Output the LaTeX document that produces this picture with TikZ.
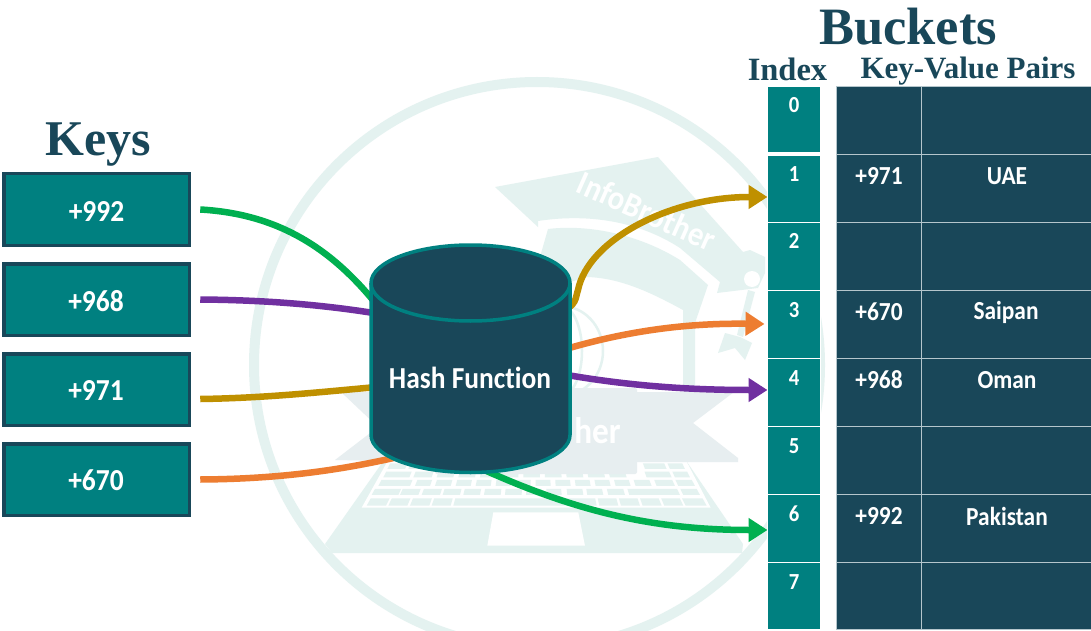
\documentclass[tikz,border=0pt]{standalone}
\usepackage{fontspec}
\setmainfont{Carlito}[Ligatures=NoCommon,FakeStretch=0.9]
\newfontfamily\titlefont{Liberation Serif}
\usetikzlibrary{arrows.meta}
\definecolor{teal1}{HTML}{008080}
\definecolor{navy1}{HTML}{194759}
\definecolor{wm}{HTML}{E4F2F0}
\definecolor{wmg}{HTML}{E7EEF0}
\definecolor{cgreen}{HTML}{00B050}
\definecolor{cpurple}{HTML}{7030A0}
\definecolor{cgold}{HTML}{BF9000}
\definecolor{corange}{HTML}{ED7D31}
\definecolor{cellline}{HTML}{B5C6CC}
\pgfdeclarelayer{wmlayer}
\pgfdeclarelayer{linklayer}
\pgfsetlayers{wmlayer,linklayer,main}
\tikzset{
 keybox/.style={draw=navy1,line width=3.5pt,fill=teal1,minimum width=185.5pt,minimum height=71.5pt,inner sep=0pt,outer sep=0pt},
 keytext/.style={text=white,inner sep=0pt,font=\bfseries\fontsize{30.5}{30.5}\selectfont},
 idxbox/.style={fill=teal1,draw=white,line width=1pt,anchor=north west,minimum width=53pt,inner sep=0pt,outer sep=0pt},
 idxtext/.style={text=white,inner sep=0pt,font=\bfseries\fontsize{23}{23}\selectfont},
 cellbox/.style={fill=navy1,draw=cellline,line width=1pt,anchor=north west,inner sep=0pt,outer sep=0pt},
 celltext/.style={text=white,inner sep=0pt,font=\bfseries\fontsize{26}{26}\selectfont},
 heading/.style={text=navy1,inner sep=0pt,anchor=base},
 link/.style={line width=6.5pt},
 arrowlink/.style={line width=6.5pt,-{Triangle[length=19pt,width=23pt]}},
 wmfill/.style={fill=wm,draw=none},
}
\begin{document}
\begin{tikzpicture}[x=1pt,y=-1pt]
\useasboundingbox (0,0) rectangle (1091,631);
\begin{pgfonlayer}{wmlayer}
\fill[white] (0,0) rectangle (1091,631);
\begin{scope}
\clip (0,0) rectangle (1091,631);
\draw[wm,line width=10pt] (537,365) circle[radius=283pt];
\end{scope}
% laptop
\fill[wmfill] (382,463) -- (687,462) -- (743,544) -- (742,553) -- (332,553) -- (325,544) -- cycle;
\begin{scope}[shift={(310,400)},x=.3333pt,y=-.3333pt]
\fill[white] (155,323) -- (232,185) -- (1130,185) -- (1202,323) -- cycle;
\foreach \yt/\yb/\lst in {
 190/207/{232/285,295/350,1005/1070,1080/1125},
 215/232/{220/298,310/365,380/430,445/495,510/560,575/625,640/690,705/755,770/820,835/885,900/950,1010/1085,1095/1140},
 240/258/{205/300,315/360,375/422,437/482,497/542,557/602,617/662,677/722,737/782,797/842,857/902,917/962,977/1025,1040/1095,1105/1155},
 267/285/{185/265,270/325,335/390,398/450,460/510,522/572,585/635,648/695,710/755,772/820,832/880,895/945,958/1110,1120/1170},
 295/317/{170/228,235/292,300/358,365/422,430/860,868/925,933/990,998/1055,1063/1120,1127/1190}}{
  \foreach \a/\b in \lst {
    \pgfmathsetmacro\sa{(678-\a)*0.0011*(\yb-\yt)}
    \pgfmathsetmacro\sb{(678-\b)*0.0011*(\yb-\yt)}
    \fill[wm] (\a,\yb) -- (\a+\sa,\yt) -- (\b+\sb,\yt) -- (\b,\yb) -- cycle;
  }
}
\fill[white] (550,337) -- (805,337) -- (825,437) -- (532,437) -- cycle;
\end{scope}
% globe
\draw[wm,line width=2.5pt] (561,351) ellipse[x radius=42pt,y radius=45pt];
\draw[wm,line width=2.5pt] (561,351) ellipse[x radius=21pt,y radius=45pt];
% cap
\fill[wmfill] (540,257) -- (548,229) .. controls (590,224) and (640,235) .. (680,260) -- (708,285) -- (695,323) -- (695,392) -- (683,392) -- (683,310) .. controls (650,292) and (620,278) .. (587,277) -- (570,282) -- cycle;
\fill[wmfill] (495,187) -- (658,157) -- (743,252) -- (750,250) -- (765,257) -- (765,273) -- (758,288) -- (717,293) -- (720,282) -- (680,248) .. controls (640,222) and (590,213) .. (538,221) -- (538,227) -- cycle;
\fill[white] (752,279) circle[radius=8pt];
\fill[wmfill] (748,290) -- (755,292) -- (743,337) -- (737,335) -- cycle;
\fill[wmfill] (725,333) -- (740,337) -- (752,343) -- (745,360) -- (735,348) -- (718,353) -- cycle;
\node[text=white,inner sep=0pt,rotate=-24,font=\bfseries\fontsize{34}{34}\selectfont] (wtext) at (647,211) {InfoBrother};
% ribbon
\fill[wmg] (341,392) -- (435,392) -- (435,462) -- (335,460) -- (378,427) -- cycle;
\fill[wmg] (734,392) -- (636,392) -- (636,462) -- (738,462) -- (738,458) -- (693,423) -- cycle;
\fill[wmg,rounded corners=2pt] (435,388) rectangle (637,474);
\node[text=white,inner sep=0pt,anchor=base east,font=\bfseries\fontsize{37}{37}\selectfont] (wher) at (621,443) {her};
\end{pgfonlayer}

% keys
\node[keybox] (a1) at (96.5,209.5) {};
\node[keybox] (a2) at (96.5,299.5) {};
\node[keybox] (a3) at (96.5,389.5) {};
\node[keybox] (a4) at (96.5,479.5) {};
\node[keytext] (ta1) at (96.5,211) {+992};
\node[keytext] (ta2) at (96,301) {+968};
\node[keytext] (ta3) at (96,390) {+971};
\node[keytext] (ta4) at (96,480) {+670};

% headings
\node[heading,font=\titlefont\bfseries\fontsize{50}{50}\selectfont] (tk) at (98,156) {Keys};
\node[heading,font=\titlefont\bfseries\fontsize{52.5}{52.5}\selectfont] (tb) at (908,45) {Buckets};
\node[heading,font=\titlefont\bfseries\fontsize{32.5}{32.5}\selectfont] (ti) at (787.5,81) {Index};
\node[heading,font=\titlefont\bfseries\fontsize{31}{31}\selectfont] (tp) at (968,78.5) {Key-Value Pairs};

% index column
\node[idxbox,minimum height=66pt] (i0) at (767.5,87) {};
\node[idxbox,minimum height=66pt] (i1) at (767.5,156) {};
\node[idxbox,minimum height=68pt] (i2) at (767.5,222) {};
\node[idxbox,minimum height=68pt] (i3) at (767.5,290) {};
\node[idxbox,minimum height=68pt] (i4) at (767.5,358) {};
\node[idxbox,minimum height=68pt] (i5) at (767.5,426) {};
\node[idxbox,minimum height=68pt] (i6) at (767.5,494) {};
\node[idxbox,minimum height=67pt] (i7) at (767.5,562) {};
\node[idxtext] (n0) at (794,105) {0};
\node[idxtext] (n1) at (794,174) {1};
\node[idxtext] (n2) at (794,241) {2};
\node[idxtext] (n3) at (794,310) {3};
\node[idxtext] (n4) at (794,378) {4};
\node[idxtext] (n5) at (794,446) {5};
\node[idxtext] (n6) at (794,514) {6};
\node[idxtext] (n7) at (794,582) {7};

% table
\foreach \r/\yy/\hh in {0/87/68,1/155/67,2/222/68,3/290/68,4/358/68,5/426/68,6/494/68,7/562/67}{
  \node[cellbox,minimum width=85pt,minimum height=\hh pt] (c\r) at (836.5,\yy) {};
  \node[cellbox,minimum width=171pt,minimum height=\hh pt] (d\r) at (921.5,\yy) {};
}
\node[celltext] (k1) at (879,176) {+971};
\node[celltext] (v1) at (1007,176) {UAE};
\node[celltext] (k3) at (879,312) {+670};
\node[celltext] (v3) at (1006,312) {Saipan};
\node[celltext] (k4) at (879,380) {+968};
\node[celltext] (v4) at (1007,380) {Oman};
\node[celltext] (k6) at (879,516) {+992};
\node[celltext] (v6) at (1007,516) {Pakistan};

% cylinder
\filldraw[fill=navy1,draw=teal1,line width=3.5pt] (371,283) -- (371,435) arc[start angle=180,end angle=360,x radius=99.5pt,y radius=37.5pt] -- (570,283) arc[start angle=0,end angle=180,x radius=99.5pt,y radius=38pt] -- cycle;
\draw[draw=teal1,line width=3.5pt] (371,283) arc[start angle=180,end angle=360,x radius=99.5pt,y radius=38pt];
\node[inner sep=0pt,minimum width=199pt,minimum height=226pt] (hf) at (470.5,358.5) {};
\node[text=white,inner sep=0pt,font=\bfseries\fontsize{30.5}{30.5}\selectfont] (hft) at (470,378) {Hash Function};

% connectors
\begin{pgfonlayer}{linklayer}
\draw[link,cgreen] ([xshift=11pt,yshift=0pt]a1.east) .. controls (280,214) and (335,250) .. ([xshift=12pt,yshift=46pt]hf.west);
\draw[link,cpurple] ([xshift=11pt]a2.east) .. controls (260,300) and (320,304) .. ([xshift=12pt,yshift=44pt]hf.west);
\draw[link,cgold] ([xshift=11pt,yshift=-9.5pt]a3.east) .. controls (270,398) and (330,391) .. ([xshift=12pt,yshift=-28pt]hf.west);
\draw[link,corange] ([xshift=11pt]a4.east) .. controls (280,479) and (340,470) .. ([xshift=25pt,yshift=-99pt]hf.west);
\draw[arrowlink,cgold] ([xshift=-12pt,yshift=45pt]hf.east) .. controls (578,305) and (575,298) .. (578,290) .. controls (588,240) and (670,197) .. ([yshift=-8pt]i1.west);
\draw[arrowlink,corange] ([xshift=-6pt,yshift=9pt]hf.east) .. controls (630,330) and (690,323) .. ([xshift=-3pt]i3.west);
\draw[arrowlink,cpurple] ([xshift=-6pt,yshift=-16pt]hf.east) .. controls (630,386) and (690,390) .. ([yshift=2pt]i4.west);
\draw[arrowlink,cgreen] ([yshift=8pt]hf.south) .. controls (570,510) and (650,530) .. ([yshift=-2pt]i6.west);
\end{pgfonlayer}
\end{tikzpicture}
\end{document}
